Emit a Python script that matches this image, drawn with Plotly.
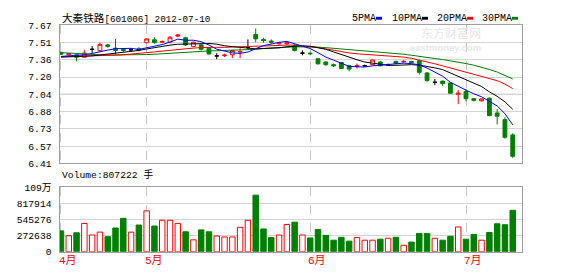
import plotly.graph_objects as go

W, H = 578, 276

# ---------------- data ----------------
opens = [7.42, 7.40, 7.40, 7.378, 7.45, 7.437, 7.49, 7.46, 7.45, 7.445,
         7.455, 7.51, 7.537, 7.515, 7.515, 7.57, 7.555, 7.476, 7.49, 7.46,
         7.39, 7.392, 7.40, 7.425, 7.47, 7.585, 7.54, 7.525, 7.50, 7.50,
         7.485, 7.415, 7.415, 7.364, 7.335, 7.31, 7.33, 7.30, 7.295, 7.30,
         7.31, 7.335, 7.31, 7.34, 7.335, 7.34, 7.345, 7.235, 7.15, 7.16,
         7.143, 7.04, 7.065, 7.00, 6.98, 7.005, 6.87, 6.81, 6.67]
highs = [7.43, 7.415, 7.40, 7.445, 7.48, 7.51, 7.50, 7.545, 7.46, 7.46,
         7.47, 7.55, 7.56, 7.53, 7.57, 7.59, 7.565, 7.52, 7.50, 7.465,
         7.415, 7.41, 7.445, 7.46, 7.54, 7.64, 7.555, 7.54, 7.515, 7.52,
         7.50, 7.44, 7.43, 7.37, 7.34, 7.32, 7.335, 7.305, 7.32, 7.31,
         7.355, 7.34, 7.32, 7.345, 7.35, 7.345, 7.35, 7.24, 7.18, 7.165,
         7.145, 7.08, 7.085, 7.005, 7.00, 7.01, 6.905, 6.83, 6.685]
lows = [7.40, 7.395, 7.34, 7.375, 7.415, 7.43, 7.465, 7.40, 7.425, 7.43,
        7.43, 7.505, 7.50, 7.505, 7.505, 7.56, 7.48, 7.47, 7.44, 7.40,
        7.36, 7.38, 7.37, 7.37, 7.445, 7.515, 7.51, 7.50, 7.49, 7.49,
        7.43, 7.395, 7.395, 7.31, 7.30, 7.29, 7.27, 7.25, 7.275, 7.29,
        7.305, 7.295, 7.30, 7.315, 7.33, 7.325, 7.22, 7.155, 7.123, 7.117,
        7.045, 6.95, 6.975, 6.975, 6.975, 6.84, 6.765, 6.635, 6.46]
closes = [7.405, 7.41, 7.378, 7.415, 7.45, 7.495, 7.477, 7.44, 7.44, 7.445,
          7.445, 7.545, 7.512, 7.52, 7.56, 7.58, 7.49, 7.515, 7.45, 7.408,
          7.39, 7.397, 7.44, 7.43, 7.47, 7.545, 7.53, 7.515, 7.51, 7.51,
          7.44, 7.415, 7.41, 7.318, 7.31, 7.30, 7.275, 7.27, 7.30, 7.30,
          7.352, 7.30, 7.31, 7.32, 7.34, 7.33, 7.24, 7.165, 7.15, 7.138,
          7.05, 7.05, 7.00, 6.985, 6.998, 6.846, 6.84, 6.648, 6.475]
volumes = [354000, 273000, 322000, 480000, 284000, 333000, 256000, 403000, 567000, 333000,
           453000, 693000, 436000, 534000, 534000, 480000, 338000, 202000, 371000, 338000,
           267000, 251000, 251000, 414000, 534000, 960000, 387000, 240000, 284000, 463000,
           502000, 284000, 234000, 376000, 278000, 196000, 245000, 180000, 240000, 196000,
           196000, 213000, 229000, 245000, 109000, 164000, 311000, 311000, 229000, 196000,
           262000, 420000, 213000, 294000, 196000, 327000, 474000, 458000, 703000]
ma5 = [7.385, 7.39, 7.392, 7.40, 7.412, 7.430, 7.443, 7.455, 7.460, 7.459,
       7.449, 7.463, 7.477, 7.493, 7.516, 7.543, 7.532, 7.533, 7.519, 7.489,
       7.451, 7.432, 7.417, 7.413, 7.425, 7.456, 7.483, 7.498, 7.514, 7.522,
       7.501, 7.478, 7.457, 7.419, 7.379, 7.351, 7.323, 7.295, 7.291, 7.289,
       7.299, 7.304, 7.312, 7.316, 7.324, 7.320, 7.308, 7.279, 7.245, 7.205,
       7.149, 7.111, 7.078, 7.045, 7.017, 6.976, 6.934, 6.863, 6.761]
ma10 = [7.378, 7.38, 7.382, 7.385, 7.39, 7.398, 7.406, 7.415, 7.425, 7.436,
        7.440, 7.453, 7.466, 7.477, 7.488, 7.496, 7.498, 7.505, 7.506, 7.503,
        7.497, 7.482, 7.475, 7.466, 7.457, 7.454, 7.458, 7.458, 7.464, 7.474,
        7.479, 7.481, 7.478, 7.466, 7.450, 7.426, 7.400, 7.376, 7.355, 7.334,
        7.325, 7.314, 7.304, 7.304, 7.307, 7.310, 7.306, 7.296, 7.281, 7.265,
        7.234, 7.209, 7.178, 7.145, 7.111, 7.062, 7.022, 6.971, 6.903]
ma20 = [7.384, 7.385, 7.386, 7.387, 7.389, 7.391, 7.393, 7.396, 7.400, 7.405,
        7.410, 7.418, 7.426, 7.434, 7.442, 7.450, 7.456, 7.461, 7.466, 7.469,
        7.468, 7.468, 7.471, 7.471, 7.472, 7.475, 7.478, 7.481, 7.485, 7.488,
        7.488, 7.481, 7.476, 7.466, 7.454, 7.440, 7.429, 7.417, 7.409, 7.404,
        7.402, 7.397, 7.391, 7.385, 7.379, 7.368, 7.353, 7.336, 7.318, 7.299,
        7.280, 7.261, 7.241, 7.224, 7.209, 7.186, 7.164, 7.133, 7.092]
ma30 = [7.420, 7.415, 7.410, 7.405, 7.400, 7.400, 7.398, 7.398, 7.398, 7.399,
        7.400, 7.402, 7.405, 7.410, 7.415, 7.420, 7.424, 7.428, 7.432, 7.435,
        7.437, 7.439, 7.440, 7.441, 7.442, 7.450, 7.457, 7.462, 7.467, 7.471,
        7.472, 7.472, 7.473, 7.470, 7.465, 7.459, 7.452, 7.446, 7.442, 7.437,
        7.434, 7.425, 7.419, 7.412, 7.405, 7.396, 7.388, 7.376, 7.366, 7.357,
        7.346, 7.334, 7.320, 7.305, 7.289, 7.266, 7.243, 7.214, 7.180]

price_tick_labels = ["7.67", "7.51", "7.36", "7.20", "7.04", "6.88", "6.73", "6.57", "6.41"]
price_min, price_max = 6.41, 7.67
vol_tick_vals = [0, 272638, 545276, 817914, 1090552]
vol_tick_labels = ["0", "272638", "545276", "817914", "109万"]
month_pos = [0, 11, 32, 52]
month_labels = ["4月", "5月", "6月", "7月"]
title_name = "大秦铁路"
title_rest = "[601006] 2012-07-10"
volume_text = "Volume:807222 手"
ma_names = ["5PMA", "10PMA", "20PMA", "30PMA"]
ma_colors = ["#0000ff", "#000000", "#ff0000", "#008000"]

# ---------------- helpers ----------------
def px(x):
    return x / W

def py(y):
    return 1 - y / H

RED, GREEN, BORDER, GRID = "#ff0000", "#008000", "#a0a0a0", "#d4d4d4"
MONO = "Liberation Mono, DejaVu Sans Mono, Noto Sans CJK SC, monospace"

xs = list(range(len(closes)))
nd = [i for i in xs if opens[i] != closes[i]]
dj = [i for i in xs if opens[i] == closes[i]]

fig = go.Figure()

fig.add_trace(go.Candlestick(
    x=nd, open=[opens[i] for i in nd], high=[highs[i] for i in nd],
    low=[lows[i] for i in nd], close=[closes[i] for i in nd],
    increasing=dict(line=dict(color=RED, width=1), fillcolor="#ffffff"),
    decreasing=dict(line=dict(color=GREEN, width=1), fillcolor=GREEN),
    whiskerwidth=0, xaxis="x", yaxis="y", hoverinfo="skip", showlegend=False))
fig.add_trace(go.Candlestick(
    x=dj, open=[opens[i] for i in dj], high=[highs[i] for i in dj],
    low=[lows[i] for i in dj], close=[closes[i] for i in dj],
    increasing=dict(line=dict(color="#000000", width=1), fillcolor="#000000"),
    decreasing=dict(line=dict(color="#000000", width=1), fillcolor="#000000"),
    whiskerwidth=0, xaxis="x", yaxis="y", hoverinfo="skip", showlegend=False))

for series, col in zip([ma30, ma20, ma10, ma5], ma_colors[::-1]):
    fig.add_trace(go.Scatter(x=xs, y=series, mode="lines",
                             line=dict(color=col, width=1),
                             xaxis="x", yaxis="y", hoverinfo="skip", showlegend=False))

up = [closes[i] >= opens[i] for i in xs]
fig.add_trace(go.Bar(
    x=xs, y=volumes,
    marker=dict(color=["#ffffff" if u else GREEN for u in up],
                line=dict(color=[RED if u else GREEN for u in up], width=1)),
    xaxis="x2", yaxis="y2", hoverinfo="skip", showlegend=False))

xdom = [px(59.5), px(522)]
xr = [-0.19, len(closes) - 1 + 1.19]
common_x = dict(domain=xdom, range=xr, showticklabels=False, tickvals=month_pos,
                showgrid=True, gridcolor="#c4c4c4", griddash="dash", gridwidth=1,
                showline=True, linecolor=BORDER, linewidth=1, mirror=True,
                zeroline=False, ticks="", fixedrange=True)
step = (price_max - price_min) / (len(price_tick_labels) - 1)
price_tick_vals = [price_max - k * step for k in range(len(price_tick_labels))]

fig.update_layout(
    width=W, height=H, margin=dict(l=0, r=0, t=0, b=0),
    paper_bgcolor="#ffffff", plot_bgcolor="#ffffff",
    showlegend=False, bargap=0.3, boxgap=0.3,
    xaxis=dict(anchor="y", rangeslider=dict(visible=False), **common_x),
    xaxis2=dict(anchor="y2", **common_x),
    yaxis=dict(domain=[py(165), py(21)], range=[price_min, price_max],
               tickvals=price_tick_vals, ticktext=price_tick_labels,
               showgrid=True, gridcolor=GRID, gridwidth=1,
               showline=True, linecolor=BORDER, mirror=True, zeroline=False,
               ticks="", ticklabelstandoff=5,
               tickfont=dict(family=MONO, size=9.7, color="#000000")),
    yaxis2=dict(domain=[py(257), py(190)], range=[0, vol_tick_vals[-1]],
                tickvals=vol_tick_vals, ticktext=vol_tick_labels,
                showgrid=True, gridcolor=GRID, gridwidth=1,
                showline=True, linecolor=BORDER, mirror=True, zeroline=False,
                ticks="", ticklabelstandoff=5,
                tickfont=dict(family=MONO, size=9.7, color="#000000")),
)

# darker middle line of price panel
fig.add_shape(type="line", xref="x domain", yref="y", x0=0, x1=1,
              y0=(price_min + price_max) / 2, y1=(price_min + price_max) / 2,
              line=dict(color=BORDER, width=1), layer="below")

ann = []
# watermark (kept behind the data)
ann.append(dict(text="东方财富网", x=px(482), y=py(29), xref="paper", yref="paper",
                showarrow=False, yanchor="middle", borderpad=0,
                font=dict(family="Noto Sans CJK SC", size=12, color="#e8e8e8")))
ann.append(dict(text="<b>eastmoney.com</b>", x=px(482), y=py(44), xref="paper", yref="paper",
                showarrow=False, yanchor="middle", borderpad=0,
                font=dict(family="Liberation Sans", size=9.5, color="#e8e8e8")))
# title
ann.append(dict(text='<span style="font-size:10.6px">' + title_name + '</span>' + title_rest,
                x=px(60), y=py(14), xref="paper", yref="paper", xanchor="left",
                yanchor="middle", showarrow=False,
                font=dict(family=MONO, size=9.3, color="#000000")))
# MA legend
legend_x = [350, 390, 435, 480]
for name, col, lx in zip(ma_names, ma_colors, legend_x):
    ann.append(dict(text=name, x=px(lx), y=py(14), xref="paper", yref="paper",
                    xanchor="left", yanchor="middle", showarrow=False,
                    font=dict(family=MONO, size=10, color="#000000")))
    tw = len(name) * 6.0
    fig.add_shape(type="rect", xref="paper", yref="paper",
                  x0=px(lx + 2 + tw), x1=px(lx + 8 + tw), y0=py(15.3), y1=py(12.3),
                  line=dict(width=0), fillcolor=col)
# volume label
ann.append(dict(text=volume_text, x=px(60), y=py(176.5), xref="paper", yref="paper",
                xanchor="left", yanchor="middle", showarrow=False,
                font=dict(family=MONO, size=9.7, color="#000000")))
# month labels
for mp, ml in zip(month_pos, month_labels):
    ann.append(dict(text=ml, x=mp, y=py(266.7), xref="x2", yref="paper",
                    xanchor="left", yanchor="middle", xshift=-4, showarrow=False,
                    font=dict(family="Liberation Mono, Noto Sans CJK SC", size=11, color=RED)))
fig.update_layout(annotations=ann)

fig.write_html("out.html")
